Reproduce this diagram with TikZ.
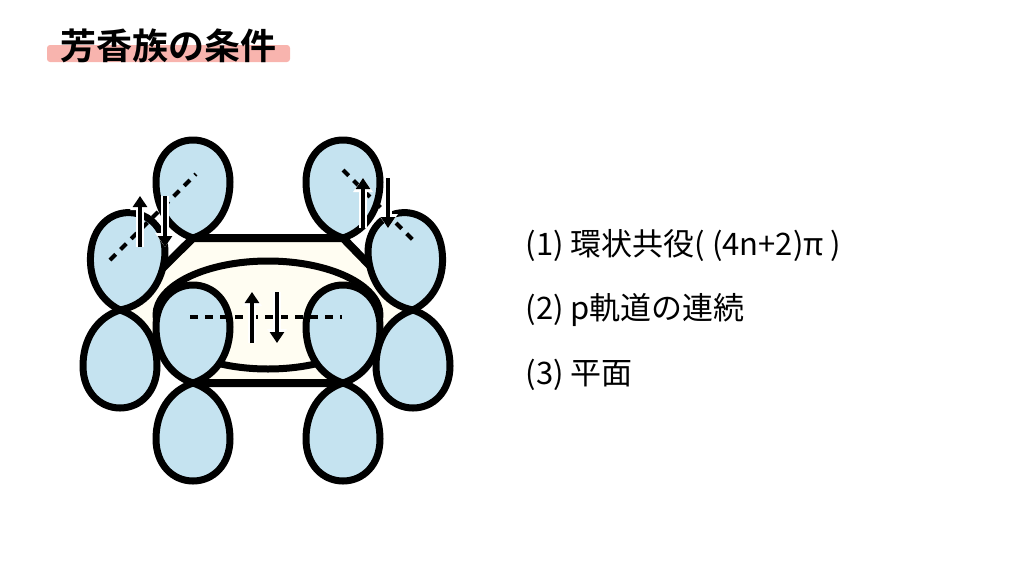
\documentclass[tikz,border=0pt]{standalone}
\usepackage{fontspec}
\setmainfont{Noto Sans CJK JP}
\newfontfamily\boldcjk{Noto Sans CJK JP}[BoldFont={* Bold}]
\usetikzlibrary{arrows.meta}
\begin{document}
\begin{tikzpicture}[x=1pt,y=-1pt,
  lobe/.style={fill=lobeblue,draw=black,line width=7pt,line join=round},
  hexfill/.style={fill=ivory,draw=black,line width=8pt,line join=round},
  dashln/.style={black,line width=4pt,dash pattern=on 8pt off 7pt},
  spin/.style={-{Triangle[length=11pt,width=14pt]},line width=4pt},
  spinw/.style={-{Triangle[length=14pt,width=19pt]},line width=8pt,white},
  lbl/.style={anchor=west,font=\fontsize{31}{34}\selectfont}]
\definecolor{lobeblue}{HTML}{C5E3F0}
\definecolor{ivory}{HTML}{FFFDF2}
\definecolor{hl}{HTML}{F8B4AE}
\useasboundingbox (0,0) rectangle (1024,576);
\tikzset{pics/teardrop/.style={code={
  \draw[lobe] (0,0) .. controls (-24,-8) and (-37,-30) .. (-37,-56)
    .. controls (-37,-82) and (-20,-98) .. (0,-98)
    .. controls (20,-98) and (37,-82) .. (37,-56)
    .. controls (37,-30) and (24,-8) .. (0,0) -- cycle;}}}
% title
\fill[hl,rounded corners=3pt] (47,45) rectangle (290,62);
\node[anchor=center,font=\boldcjk\bfseries\fontsize{36}{40}\selectfont] (title) at (168,46) {芳香族の条件};
% hexagon
\coordinate (tl) at (193,238); \coordinate (tr) at (343,238);
\coordinate (r) at (413,310); \coordinate (br) at (343,383);
\coordinate (bl) at (193,383); \coordinate (l) at (120,310);
\draw[hexfill] (tl) -- (tr) -- (r) -- (br) -- (bl) -- (l) -- cycle;
\draw[hexfill,line width=7pt] (268,315) ellipse [x radius=112, y radius=54];
% lobes
\pic[rotate=-8] at (l) {teardrop};
\pic[rotate=180] at (l) {teardrop};
\pic[rotate=8] at (r) {teardrop};
\pic[rotate=180] at (r) {teardrop};
\pic at (bl) {teardrop};
\pic[rotate=180] at (bl) {teardrop};
\pic at (br) {teardrop};
\pic[rotate=180] at (br) {teardrop};
\pic at (tl) {teardrop};
\pic at (tr) {teardrop};
% dashed axes
\coordinate (d1a) at (110,260); \coordinate (d1b) at (196,174);
\coordinate (d2a) at (343,170); \coordinate (d2b) at (413,240);
\coordinate (d3a) at (190,317); \coordinate (d3b) at (342,317);
\draw[dashln] (d1a) -- (d1b);
\draw[dashln] (d2a) -- (d2b);
\draw[dashln] (d3a) -- (d3b);
% spins
\foreach \x/\ya/\yb in {140/247/196, 252/343/292, 363/228/178}{
  \draw[spinw] (\x,\ya) -- (\x,\yb);
  \draw[spin] (\x,\ya) -- (\x,\yb);
  \draw[spinw] (\x+25,\yb) -- (\x+25,\ya);
  \draw[spin] (\x+25,\yb) -- (\x+25,\ya);
}
% conditions
\node[lbl] (c1) at (522,245) {(1) 環状共役( (4n+2)π )};
\node[lbl] (c2) at (522,310) {(2) p軌道の連続};
\node[lbl] (c3) at (522,375) {(3) 平面};
\end{tikzpicture}
\end{document}
